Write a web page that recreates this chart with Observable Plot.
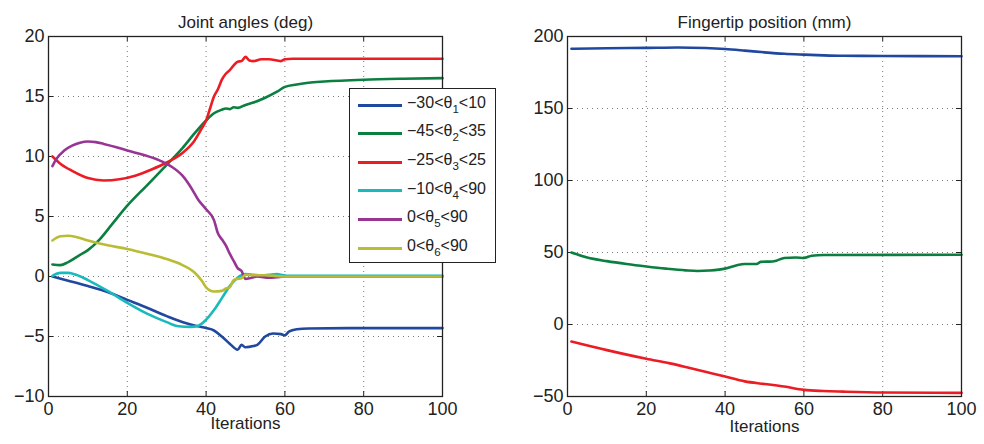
<!DOCTYPE html>
<html>
<head>
<meta charset="utf-8">
<script src="https://cdn.jsdelivr.net/npm/d3@7"></script>
<script src="https://cdn.jsdelivr.net/npm/@observablehq/plot@0.6"></script>
<style>
  body { margin: 0; background: #fff; }
  #wrap { position: relative; width: 984px; height: 444px; overflow: hidden; background: #fff; font-family: "Liberation Sans", Arial, sans-serif; }
  #left, #right { position: absolute; top: 0; }
  #left { left: 0; }
  #right { left: 492px; }
  #legend { position: absolute; left: 349px; top: 88px; width: 147px; height: 175px; border: 1.3px solid #222; background: #fff; z-index: 10; box-sizing: border-box; }
  .row { position: absolute; left: 0; height: 20px; display: flex; align-items: center; }
  .sw { width: 44px; height: 3px; margin-left: 8px; margin-right: 5px; }
  .lab { font-size: 16px; color: #222; white-space: nowrap; line-height: 1; }
  .lab sub { font-size: 11.5px; vertical-align: -5px; }
</style>
</head>
<body>
<div id="wrap">
  <div id="left"></div>
  <div id="right"></div>
  <div id="legend"></div>
</div>
<script>
// ---- Joint angles (deg): [iteration, value]
const theta1 = [[1,0],[5,-0.35],[10,-0.8],[15,-1.3],[20,-1.95],[25,-2.6],[30,-3.3],[35,-3.9],[38,-4.15],[40,-4.3],[42,-4.5],[44,-5.0],[46,-5.6],[48,-6.1],[49,-5.7],[50,-5.9],[52,-5.8],[53,-5.7],[55,-5.0],[57,-4.75],[59,-4.8],[60,-4.9],[61,-4.6],[63,-4.4],[66,-4.33],[80,-4.3],[100,-4.3]];
const theta2 = [[1,1.0],[3,0.95],[5,1.2],[8,1.8],[10,2.2],[13,3.1],[16,4.3],[20,5.9],[25,7.6],[30,9.3],[34,10.7],[37,11.9],[40,13.0],[42,13.6],[44,13.9],[45,14.0],[46,13.95],[47,14.1],[48,14.05],[50,14.3],[52,14.5],[55,14.9],[58,15.4],[60,15.8],[63,16.0],[66,16.15],[70,16.25],[80,16.4],[90,16.48],[100,16.53]];
const theta3 = [[1,10.0],[3,9.4],[6,8.8],[10,8.2],[14,8.0],[18,8.1],[22,8.4],[26,8.9],[30,9.5],[34,10.3],[37,11.3],[39,12.4],[40,13.0],[41,14.0],[42,15.0],[43,15.6],[44,16.4],[45,16.9],[46,17.2],[47,17.6],[48,17.9],[49,17.95],[50,18.3],[51,18.0],[52,17.95],[54,18.1],[56,18.1],[58,18.0],[59,17.95],[60,18.1],[62,18.15],[100,18.15]];
const theta4 = [[1,0.05],[3,0.3],[5,0.3],[7,0.15],[10,-0.3],[15,-1.2],[20,-2.2],[25,-3.1],[30,-3.8],[33,-4.15],[36,-4.2],[38,-4.1],[40,-3.6],[42,-2.8],[44,-1.8],[46,-0.8],[48,-0.1],[49,0.1],[50,0.2],[52,0.15],[54,0.1],[56,0.15],[58,0.2],[59,0.15],[61,0.05],[65,0.05],[100,0.05]];
const theta5 = [[1,9.2],[2,9.8],[4,10.5],[6,10.9],[8,11.15],[10,11.25],[12,11.2],[14,11.05],[17,10.8],[20,10.5],[24,10.15],[28,9.7],[31,9.2],[34,8.4],[36,7.5],[38,6.4],[40,5.6],[42,4.7],[43,3.6],[44,3.1],[45,2.6],[46,1.9],[47,1.3],[48,0.7],[49,0.45],[50,-0.2],[51,-0.15],[53,0.0],[56,-0.1],[58,-0.05],[60,0],[100,0]];
const theta6 = [[1,3.0],[3,3.35],[5,3.4],[7,3.3],[10,3.0],[15,2.6],[20,2.3],[25,1.9],[30,1.45],[34,0.95],[37,0.35],[39,-0.4],[40,-0.9],[42,-1.25],[44,-1.2],[45,-1.0],[46,-0.9],[47,-0.3],[48,-0.2],[49,-0.15],[50,0.15],[52,0.1],[55,0.1],[60,0.0],[100,0.0]];

// ---- Fingertip position (mm)
const fingerX = [[1,191.5],[10,191.8],[20,192.1],[28,192.4],[35,192.0],[40,191.3],[45,190.2],[50,189.0],[55,188.0],[60,187.4],[65,186.9],[70,186.6],[80,186.5],[100,186.3]];
const fingerY = [[1,50],[5,46.5],[10,44],[15,42],[20,40.3],[25,38.8],[30,37.6],[33,37.2],[36,37.5],[40,38.8],[43,41.2],[45,42.0],[48,42.0],[49,43.5],[52,43.8],[53,44.3],[55,46.2],[58,46.5],[60,46.2],[62,47.8],[65,48.3],[100,48.4]];
const fingerZ = [[1,-11.8],[10,-17.8],[20,-23.8],[26,-27],[30,-29.5],[35,-32.8],[40,-36.1],[45,-39.5],[50,-41.3],[55,-43.1],[60,-45.4],[65,-46.2],[70,-46.6],[80,-47.2],[100,-47.5]];

const jointSeries = [theta1, theta2, theta3, theta4, theta5, theta6];
const jointLabels = [["−30<θ","1","<10"],["−45<θ","2","<35"],["−25<θ","3","<25"],["−10<θ","4","<90"],["0<θ","5","<90"],["0<θ","6","<90"]];
const jointColors = ["#21489f","#0b7f3f","#ec1c24","#19b9bc","#983594","#b9bd35"];
const fingerSeries = [fingerX, fingerY, fingerZ];
const fingerColors = ["#21489f","#0b7f3f","#ec1c24"];

const xTicks = [0,20,40,60,80,100];
const yTicksLeft = [-10,-5,0,5,10,15,20];
const yTicksRight = [-50,0,50,100,150,200];

const font = '"Liberation Sans", Arial, sans-serif';

function panel({series, colors, yDomain, yTicks, title, width, ml, mr, labelDy}) {
  const innerH = 360, innerW = width - ml - mr;
  const marks = [
    Plot.gridX(xTicks.slice(1, -1), {stroke: "#555", strokeOpacity: 0.8, strokeDasharray: "1,4", strokeWidth: 1}),
    Plot.gridY(yTicks.slice(1, -1), {stroke: "#555", strokeOpacity: 0.8, strokeDasharray: "1,4", strokeWidth: 1}),
    Plot.tickX(xTicks, {x: d => d, insetTop: innerH - 5, stroke: "#222"}),
    Plot.tickX(xTicks, {x: d => d, insetBottom: innerH - 5, stroke: "#222"}),
    Plot.tickY(yTicks, {y: d => d, insetLeft: innerW - 5, stroke: "#222"}),
    Plot.tickY(yTicks, {y: d => d, insetRight: innerW - 5, stroke: "#222"}),
  ];
  series.forEach((s, i) => {
    marks.push(Plot.line(s, {x: d => d[0], y: d => d[1], stroke: colors[i], strokeWidth: 2.6, curve: "monotone-x"}));
  });
  marks.push(
    Plot.frame({stroke: "#222", strokeWidth: 1.3}),
    Plot.axisX(xTicks, {tickSize: 0, tickPadding: 6, fontSize: 18, fill: "#222", label: null}),
    Plot.axisY(yTicks, {tickSize: 0, tickPadding: 4, fontSize: 18, fill: "#222", label: null}),
    Plot.text([title], {frameAnchor: "top", dy: -21, fontSize: 17, fill: "#222", text: d => d}),
    Plot.text(["Iterations"], {frameAnchor: "bottom", dy: labelDy, fontSize: 17, fill: "#222", text: d => d})
  );
  return Plot.plot({
    width, height: 444,
    marginLeft: ml, marginRight: mr, marginTop: 36, marginBottom: 48,
    x: {domain: [0, 100]},
    y: {domain: yDomain},
    style: {fontFamily: font, background: "transparent", overflow: "visible"},
    marks
  });
}

document.getElementById("left").append(panel({
  series: jointSeries, colors: jointColors, yDomain: [-10, 20], yTicks: yTicksLeft,
  title: "Joint angles (deg)", width: 492, ml: 48, mr: 50, labelDy: 32
}));
document.getElementById("right").append(panel({
  series: fingerSeries, colors: fingerColors, yDomain: [-50, 200], yTicks: yTicksRight,
  title: "Fingertip position (mm)", width: 492, ml: 75, mr: 23, labelDy: 35
}));

const legend = document.getElementById("legend");
jointLabels.forEach((lab, i) => {
  const row = document.createElement("div");
  row.className = "row";
  row.style.top = (6 + i * 28.6) + "px";
  row.innerHTML = `<div class="sw" style="background:${jointColors[i]}"></div><div class="lab">${lab[0]}<sub>${lab[1]}</sub>${lab[2]}</div>`;
  legend.append(row);
});
</script>
</body>
</html>
